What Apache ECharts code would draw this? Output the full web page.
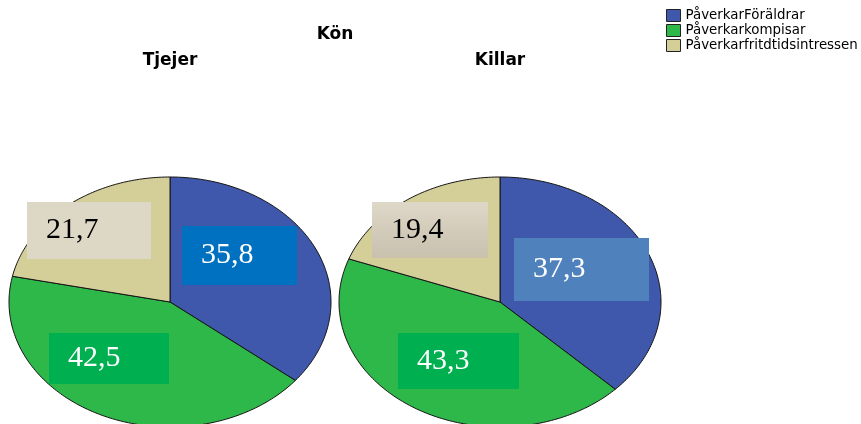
<!DOCTYPE html>
<html><head><meta charset="utf-8">
<script src="https://cdn.jsdelivr.net/npm/echarts@6/dist/echarts.min.js"></script>
<style>html,body{margin:0;padding:0;background:#fff}#c{width:861px;height:424px}</style>
</head><body><div id="c"></div>
<script>
// ---- data ----
const mainTitle = 'Kön';
const groups = ['Tjejer', 'Killar'];
const categories = ['PåverkarFöräldrar', 'Påverkarkompisar', 'Påverkarfritdtidsintressen'];
const tjejerValues = [35.8, 42.5, 21.7];
const killarValues = [37.3, 43.3, 19.4];

// ---- layout / style ----
const valuesByGroup = [tjejerValues, killarValues];
const sliceColors = ['#3f58ab', '#2fb84a', '#d4ce98'];
const pieCenters = [[170, 302], [500, 302]];
const RX = 161, RY = 125;
// label boxes relative to pie centre: [dx, dy, w, h]
const labelBoxes = [
  [[12, -76, 115, 59], [-121, 31, 120, 51], [-143, -100, 124, 57]],
  [[14, -64, 135, 63], [-102, 31, 121, 56], [-128, -100, 116, 56]]
];
const labelFills = [
  ['#0070c0', '#00b050', '#ddd7c6'],
  ['#4f81bd', '#00b050', {type: 'linear', x: 0, y: 0, x2: 0, y2: 1,
    colorStops: [{offset: 0, color: '#ded8c8'}, {offset: 1, color: '#c9c0ae'}]}]
];
const labelTextColors = ['#ffffff', '#ffffff', '#000000'];

function fmt(v) { return v.toFixed(1).replace('.', ','); }

function seriesFor(ci) {
  const data = groups.map((g, gi) => {
    const vals = valuesByGroup[gi];
    const before = vals.slice(0, ci).reduce((a, b) => a + b, 0);
    const total = vals.reduce((a, b) => a + b, 0);
    return {name: g, value: [gi, vals[ci], before, total]};
  });
  return {
    type: 'custom',
    name: categories[ci],
    coordinateSystem: 'none',
    itemStyle: {color: sliceColors[ci], borderColor: '#1a1a1a', borderWidth: 1},
    data: data,
    renderItem: function (params, api) {
      const gi = api.value(0), v = api.value(1), before = api.value(2), total = api.value(3);
      const cx = pieCenters[gi][0], cy = pieCenters[gi][1];
      const a0 = before / total * 2 * Math.PI, a1 = (before + v) / total * 2 * Math.PI;
      const n = Math.max(8, Math.ceil((a1 - a0) / (Math.PI / 180)));
      const pts = [[cx, cy]];
      for (let i = 0; i <= n; i++) {
        const t = a0 + (a1 - a0) * i / n;
        pts.push([cx + RX * Math.sin(t), cy - RY * Math.cos(t)]);
      }
      const b = labelBoxes[gi][ci];
      return {type: 'group', children: [
        {type: 'polygon', shape: {points: pts},
          style: {fill: api.visual('color'), stroke: '#141414', lineWidth: 1, lineJoin: 'round'}},
        {type: 'rect', z2: 50, shape: {x: cx + b[0], y: cy + b[1], width: b[2], height: b[3]},
          style: {fill: labelFills[gi][ci]}},
        {type: 'text', z2: 51, style: {x: cx + b[0] + 19, y: cy + b[1] + b[3] / 2, text: fmt(v),
          fill: labelTextColors[ci], font: '30px "Liberation Serif"', verticalAlign: 'middle', align: 'left'}}
      ]};
    }
  };
}

const titleFont = {fontFamily: 'DejaVu Sans', fontWeight: 'bold', fontSize: 17, color: '#000'};
const chart = echarts.init(document.getElementById('c'));
chart.setOption({
  animation: false,
  backgroundColor: '#fff',
  title: [{text: mainTitle, left: 335, top: 26, textAlign: 'center', padding: 0, textStyle: titleFont}]
    .concat(groups.map((g, gi) => ({text: g, left: pieCenters[gi][0], top: 52, textAlign: 'center', padding: 0, textStyle: titleFont}))),
  legend: {
    data: categories, orient: 'vertical', left: 666, top: 9, padding: 0,
    icon: 'rect', itemWidth: 14, itemHeight: 12, itemGap: 2, selectedMode: false,
    itemStyle: {borderColor: '#222', borderWidth: 1},
    textStyle: {fontFamily: 'DejaVu Sans', fontSize: 13.4, color: '#000', padding: [0, 0, 0, 0]}
  },
  series: categories.map((c, ci) => seriesFor(ci))
});
</script></body></html>
